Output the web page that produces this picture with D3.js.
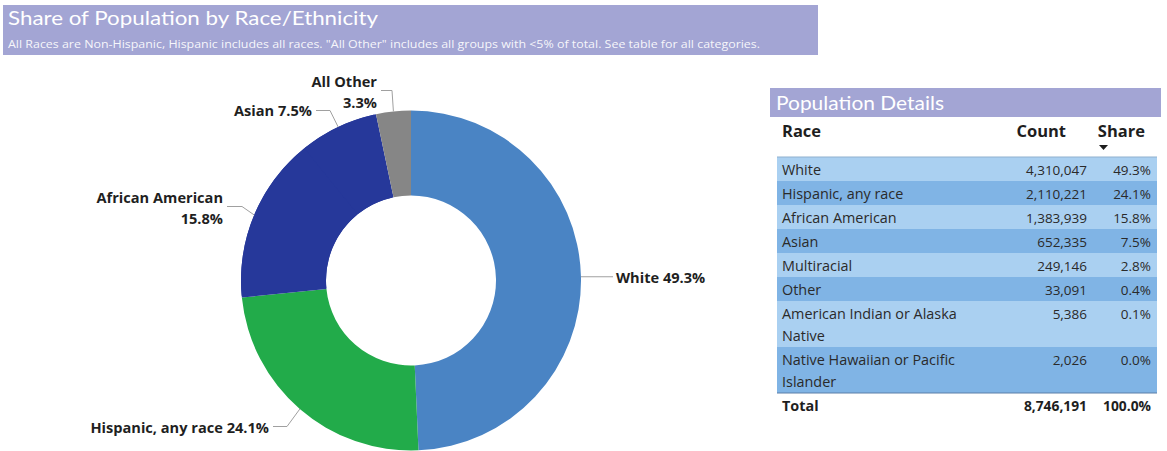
<!DOCTYPE html>
<html>
<head>
<meta charset="utf-8">
<script src="https://cdn.jsdelivr.net/npm/d3@7/dist/d3.min.js"></script>
<style>
  html, body { margin: 0; padding: 0; background: #ffffff; }
  svg { display: block; }
</style>
</head>
<body>
<svg id="chart" width="1167" height="451"></svg>
<script>
// Donut slices (share of population, %)
const sliceNames = ["White", "Hispanic, any race", "African American", "Asian", "All Other"];
const sliceShares = [49.3, 24.1, 15.8, 7.5, 3.3];

// Detail table
const tableRaces = ["White", "Hispanic, any race", "African American", "Asian", "Multiracial", "Other",
  "American Indian or Alaska Native", "Native Hawaiian or Pacific Islander"];
const tableCounts = [4310047, 2110221, 1383939, 652335, 249146, 33091, 5386, 2026];
const tableShares = [49.3, 24.1, 15.8, 7.5, 2.8, 0.4, 0.1, 0.0];
const totalCount = 8746191;
const totalShare = 100.0;

const titleText = "Share of Population by Race/Ethnicity";
const subtitleText = "All Races are Non-Hispanic, Hispanic includes all races. \"All Other\" includes all groups with <5% of total. See table for all categories.";

const svg = d3.select("#chart");
const banner = "#a3a5d4";

// ---------- Header banner ----------
svg.append("rect").attr("x", 3).attr("y", 5).attr("width", 815).attr("height", 50).attr("fill", banner);
svg.append("text").attr("x", 8).attr("y", 25)
  .attr("font-family", "Lato, 'Open Sans', sans-serif").attr("font-size", 20)
  .attr("fill", "#ffffff").attr("textLength", 370).attr("lengthAdjust", "spacingAndGlyphs")
  .text(titleText);
svg.append("text").attr("x", 8).attr("y", 48)
  .attr("font-family", "'Open Sans', sans-serif").attr("font-size", 10)
  .attr("fill", "#ffffff").attr("fill-opacity", 0.92).attr("textLength", 752).attr("lengthAdjust", "spacingAndGlyphs")
  .text(subtitleText);

// ---------- Donut ----------
const cx = 411, cy = 280.5, R = 170, r = 85;
const navy = "#26389a";
const colors = d3.scaleOrdinal().domain(sliceNames)
  .range(["#4a84c4", "#22ab4a", navy, navy, "#868686"]);

const pie = d3.pie().sort(null).value(d => d.v);
const arcs = pie(sliceNames.map((n, i) => ({ n, v: sliceShares[i] })));
const arc = d3.arc().innerRadius(r).outerRadius(R);
const edge = d3.arc().innerRadius(R).outerRadius(R);

const g = svg.append("g").attr("transform", `translate(${cx},${cy})`);

// Navy backing under the two same-coloured slices so no seam shows between them
const aa = arcs[sliceNames.indexOf("African American")];
const as = arcs[sliceNames.indexOf("Asian")];
g.append("path")
  .attr("d", arc({ startAngle: aa.startAngle + 0.01, endAngle: as.endAngle - 0.01 }))
  .attr("fill", navy);

g.selectAll("path.slice").data(arcs).join("path")
  .attr("class", "slice")
  .attr("d", arc)
  .attr("fill", d => colors(d.data.n));

// Label layout: elbow point and text anchor per slice (relative to chart center)
const labelLayout = {
  "White":              { elbow: null,        end: [205, -4],   anchor: "start", lines: d => [`${d.n} ${d.v.toFixed(1)}%`], ty: [1] },
  "Hispanic, any race": { elbow: [-124, 146], end: [-138, 146], anchor: "end", lines: d => [`${d.n} ${d.v.toFixed(1)}%`], ty: [1] },
  "African American":   { elbow: [-169, -74], end: [-184, -74], anchor: "end", lines: d => [d.n, `${d.v.toFixed(1)}%`], ty: [-9, 12] },
  "Asian":              { elbow: [-81, -170], end: [-95, -170], anchor: "end", lines: d => [`${d.n} ${d.v.toFixed(1)}%`], ty: [0] },
  "All Other":          { elbow: [-19, -190], end: [-30, -190], anchor: "end", lines: d => [d.n, `${d.v.toFixed(1)}%`], ty: [-9, 12] }
};

arcs.forEach(a => {
  const L = labelLayout[a.data.n];
  const p0 = edge.centroid(a);
  const pts = [p0];
  if (L.elbow) pts.push(L.elbow);
  const end = L.elbow ? L.end : [L.end[0] - 3, p0[1]];
  pts.push(end);
  g.append("path")
    .attr("d", d3.line()(pts))
    .attr("fill", "none").attr("stroke", "#a0a0a0").attr("stroke-width", 1);
  const tx = end[0] + (L.anchor === "end" ? -4 : 3);
  const ty0 = end[1];
  const lines = L.lines(a.data);
  lines.forEach((t, i) => {
    g.append("text")
      .attr("x", tx).attr("y", ty0 + L.ty[i])
      .attr("dy", "0.35em")
      .attr("text-anchor", L.anchor)
      .attr("font-family", "'Open Sans', sans-serif").attr("font-weight", 700)
      .attr("font-size", 14.6).attr("fill", "#1f1f1f")
      .text(t);
  });
});

// ---------- Population Details table ----------
const tx0 = 777, tx1 = 1157;
svg.append("rect").attr("x", 770).attr("y", 88).attr("width", 391).attr("height", 29).attr("fill", banner);
svg.append("text").attr("x", 776).attr("y", 110)
  .attr("font-family", "Lato, 'Open Sans', sans-serif").attr("font-size", 19)
  .attr("fill", "#ffffff").attr("textLength", 168).attr("lengthAdjust", "spacingAndGlyphs")
  .text("Population Details");

const countX = 1087, shareX = 1151;
const head = svg.append("g").attr("font-family", "'Open Sans', sans-serif").attr("font-weight", 700)
  .attr("font-size", 16.5).attr("fill", "#1e1e1e");
head.append("text").attr("x", 782).attr("y", 137).text("Race");
head.append("text").attr("x", 1066).attr("y", 137).attr("text-anchor", "end").text("Count");
head.append("text").attr("x", 1145).attr("y", 137).attr("text-anchor", "end").text("Share");
svg.append("path").attr("d", "M1099,145 L1108,145 L1103.5,150 Z").attr("fill", "#1e1e1e");

const fmtCount = d3.format(",");
const fmtShare = v => v.toFixed(1) + "%";
const rowLines = [
  ["White"], ["Hispanic, any race"], ["African American"], ["Asian"], ["Multiracial"], ["Other"],
  ["American Indian or Alaska", "Native"], ["Native Hawaiian or Pacific", "Islander"]
];
const rowH1 = 24, rowH2 = 46;
let y = 157;
const body = svg.append("g").attr("font-family", "'Open Sans', sans-serif").attr("fill", "#2a2a2a");
tableRaces.forEach((race, i) => {
  const lines = rowLines[i];
  const h = lines.length > 1 ? rowH2 : rowH1;
  body.append("rect").attr("x", tx0).attr("y", y).attr("width", tx1 - tx0).attr("height", h)
    .attr("fill", i % 2 === 0 ? "#aad0f1" : "#80b4e5");
  lines.forEach((t, k) => {
    body.append("text").attr("x", 782).attr("y", y + 17.5 + k * 22).attr("font-size", 14.4).text(t);
  });
  body.append("text").attr("x", countX).attr("y", y + 17.5).attr("font-size", 13.5)
    .attr("text-anchor", "end").text(fmtCount(tableCounts[i]));
  body.append("text").attr("x", shareX).attr("y", y + 17.5).attr("font-size", 13.5)
    .attr("text-anchor", "end").text(fmtShare(tableShares[i]));
  y += h;
});
svg.append("line").attr("x1", tx0).attr("x2", tx1).attr("y1", y).attr("y2", y)
  .attr("stroke", "#5a7fa8").attr("stroke-width", 1);
svg.append("line").attr("x1", tx0).attr("x2", tx1).attr("y1", 157).attr("y2", 157)
  .attr("stroke", "#8fb0cf").attr("stroke-width", 1);

const foot = svg.append("g").attr("font-family", "'Open Sans', sans-serif").attr("font-weight", 700)
  .attr("fill", "#1e1e1e");
foot.append("text").attr("x", 782).attr("y", y + 18).attr("font-size", 14.4).text("Total");
foot.append("text").attr("x", countX).attr("y", y + 18).attr("font-size", 13.8).attr("text-anchor", "end").text(fmtCount(totalCount));
foot.append("text").attr("x", shareX).attr("y", y + 18).attr("font-size", 13.8).attr("text-anchor", "end").text(fmtShare(totalShare));
</script>
</body>
</html>
